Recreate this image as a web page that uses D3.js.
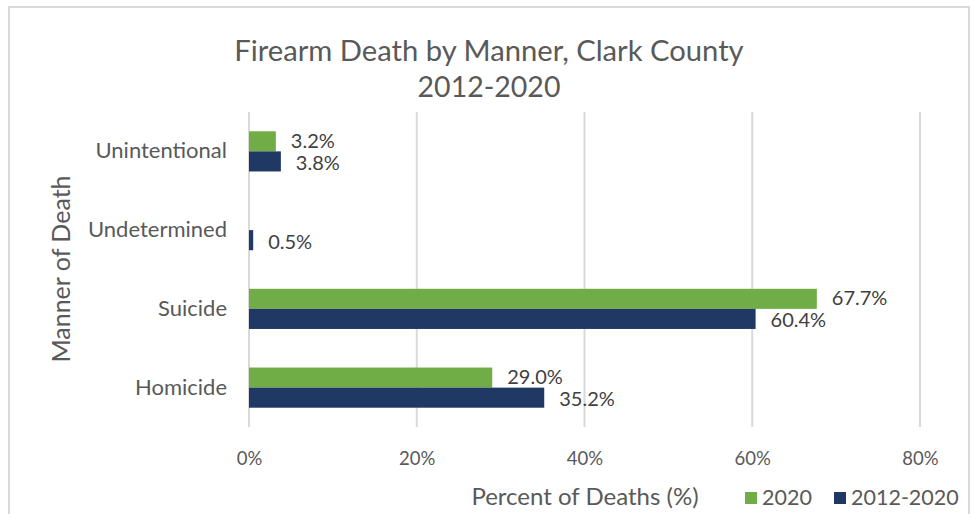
<!DOCTYPE html>
<html><head><meta charset="utf-8">
<script src="https://cdn.jsdelivr.net/npm/d3@7"></script>
<style>body{margin:0;background:#fff;} text{font-family:Lato,"Open Sans",sans-serif;}</style>
</head><body><svg id="c" width="974" height="514"></svg>
<script>
const categories = ["Unintentional","Undetermined","Suicide","Homicide"];
const seriesNames = ["2020","2012-2020"];
const values2020 = [3.2, null, 67.7, 29.0];
const values2012_2020 = [3.8, 0.5, 60.4, 35.2];
const xTicks = [0,20,40,60,80];
const colors = ["#70AD47","#203864"];

const svg = d3.select("#c");
svg.append("rect").attr("x",9).attr("y",7).attr("width",960).attr("height",520)
  .attr("fill","#fff").attr("stroke","#d9d9d9").attr("stroke-width",2);

const m = {l:249, r:920, t:112, b:427};
const x = d3.scaleLinear().domain([0,80]).range([m.l,m.r]);
const y = d3.scaleBand().domain(categories).range([m.t,m.b]).paddingInner(0.49).paddingOuter(0.245);
const y1 = d3.scaleBand().domain(seriesNames).range([0,y.bandwidth()]);

// gridlines
svg.append("g").selectAll("line").data(xTicks).join("line")
  .attr("x1",d=>x(d)).attr("x2",d=>x(d)).attr("y1",m.t).attr("y2",m.b)
  .attr("stroke","#d9d9d9").attr("stroke-width",2);

// x axis
const xa = svg.append("g").attr("transform",`translate(0,${m.b})`)
  .call(d3.axisBottom(x).tickValues(xTicks).tickFormat(d=>d+"%").tickSize(0).tickPadding(25));
xa.select(".domain").remove();
xa.selectAll("text").attr("font-size",18.5).attr("fill","#595959").style("font-family","Lato");

// y axis
const ya = svg.append("g").attr("transform",`translate(${m.l-22},0)`)
  .call(d3.axisLeft(y).tickSize(0).tickPadding(0));
ya.select(".domain").remove();
ya.selectAll("text").attr("font-size",22).attr("fill","#595959").style("font-family","Lato");

const series = [values2020, values2012_2020];
const labelShift = [-0.5, 1.5];
series.forEach((vals,si)=>{
  const g = svg.append("g");
  const data = categories.map((c,i)=>({c, v:vals[i]})).filter(d=>d.v!=null);
  g.selectAll("rect").data(data).join("rect")
    .attr("x",x(0)).attr("y",d=>y(d.c)+y1(seriesNames[si]))
    .attr("width",d=>x(d.v)-x(0)).attr("height",y1.bandwidth())
    .attr("fill",colors[si]);
  g.selectAll("text").data(data).join("text")
    .attr("x",d=>x(d.v)+15)
    .attr("y",d=>y(d.c)+y1(seriesNames[si])+y1.bandwidth()/2 + labelShift[si])
    .attr("dy","0.35em")
    .attr("font-size",20).attr("fill","#404040")
    .text(d=>d.v.toFixed(1)+"%");
});

// title
svg.append("text").attr("x",489).attr("y",61).attr("text-anchor","middle")
  .attr("font-size",29.2).attr("fill","#595959").text("Firearm Death by Manner, Clark County");
svg.append("text").attr("x",489).attr("y",97).attr("text-anchor","middle")
  .attr("font-size",28.5).attr("fill","#595959").text("2012-2020");

// axis titles
svg.append("text").attr("transform","translate(70,269) rotate(-90)").attr("text-anchor","middle")
  .attr("font-size",25).attr("fill","#595959").text("Manner of Death");
svg.append("text").attr("x",585).attr("y",505).attr("text-anchor","middle")
  .attr("font-size",24).attr("fill","#595959").text("Percent of Deaths (%)");

// legend
const lx = [745, 834];
seriesNames.forEach((s,i)=>{
  svg.append("rect").attr("x",lx[i]).attr("y",492).attr("width",12).attr("height",12).attr("fill",colors[i]);
  svg.append("text").attr("x",lx[i]+17).attr("y",505).attr("font-size",21.5).attr("fill","#595959").text(s);
});
</script></body></html>
